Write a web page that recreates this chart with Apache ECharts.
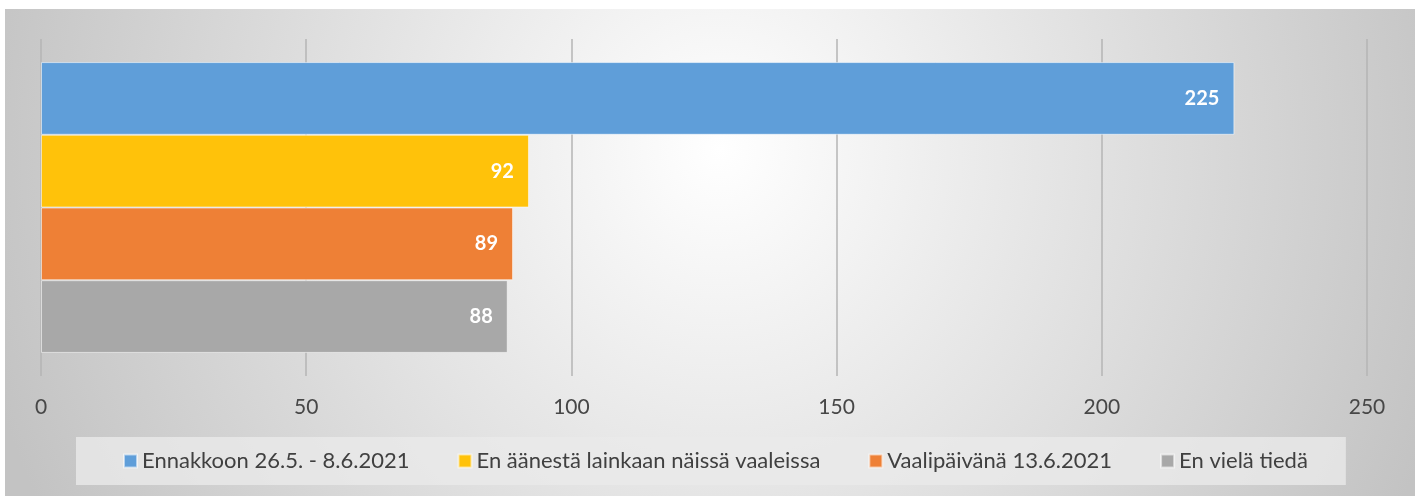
<!DOCTYPE html>
<html>
<head>
<meta charset="utf-8">
<script src="https://cdn.jsdelivr.net/npm/echarts@6/dist/echarts.min.js"></script>
<style>
  html, body { margin: 0; padding: 0; background: #fff; }
  #chart {
    position: absolute;
    left: 5px;
    top: 9px;
    width: 1410px;
    height: 487px;
    background: radial-gradient(760px 800px at 715px 140px, #ffffff 0%, #c3c3c3 100%);
  }
</style>
</head>
<body>
<div id="chart"></div>
<script>
// 数据
const categories = [""];
const seriesNames = [
  "Ennakkoon 26.5. - 8.6.2021",
  "En äänestä lainkaan näissä vaaleissa",
  "Vaalipäivänä 13.6.2021",
  "En vielä tiedä",
];
const ennakkoon = [225];
const enAanesta = [92];
const vaalipaivana = [89];
const enTieda = [88];
const colors = ["#5f9ed9", "#ffc20a", "#ee8036", "#a8a8a8"];
const xTicks = [0, 50, 100, 150, 200, 250];

const chart = echarts.init(document.getElementById("chart"));

function barSeries(name, data, color) {
  return {
    name: name,
    type: "bar",
    data: data,
    barGap: "0%",
    barCategoryGap: "13.7%",
    itemStyle: {
      color: color,
      borderColor: "rgba(255,255,255,0.55)",
      borderWidth: 1,
    },
    label: {
      show: true,
      position: "insideRight",
      distance: 15,
      color: "#ffffff",
      fontFamily: "Lato",
      fontWeight: "bold",
      fontSize: 20,
    },
  };
}

const option = {
  backgroundColor: "transparent",
  animation: false,
  grid: {
    left: 36,
    right: 48,
    top: 30,
    bottom: 120,
    containLabel: false,
  },
  xAxis: {
    type: "value",
    min: xTicks[0],
    max: xTicks[xTicks.length - 1],
    interval: 50,
    axisLine: { show: false },
    axisTick: { show: false },
    axisLabel: {
      color: "#474747",
      fontFamily: "Lato",
      fontSize: 21,
      margin: 21,
    },
    splitLine: {
      lineStyle: {
        color: "#b5b5b5",
        width: 1.5,
      },
    },
  },
  yAxis: {
    type: "category",
    data: categories,
    inverse: true, // 第一个系列在最上面
    axisLine: { show: false },
    axisTick: { show: false },
    axisLabel: { show: false },
  },
  legend: {
    data: seriesNames,
    left: 71,
    top: 428,
    padding: [13, 38, 13, 47],
    backgroundColor: "rgba(234,234,234,0.8)",
    itemWidth: 13,
    itemHeight: 13,
    itemGap: 48,
    icon: "rect",
    selectedMode: false,
    textStyle: {
      color: "#404040",
      fontFamily: "Lato",
      fontSize: 22,
      lineHeight: 21,
    },
  },
  series: [
    barSeries(seriesNames[0], ennakkoon, colors[0]),
    barSeries(seriesNames[1], enAanesta, colors[1]),
    barSeries(seriesNames[2], vaalipaivana, colors[2]),
    barSeries(seriesNames[3], enTieda, colors[3]),
  ],
};
chart.setOption(option);
</script>
</body>
</html>
